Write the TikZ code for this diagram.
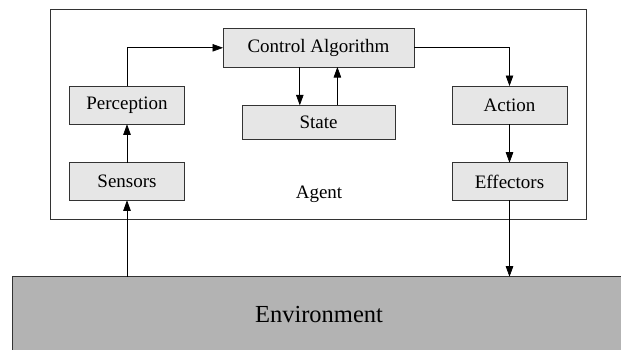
\documentclass[tikz,border=0pt]{standalone}
\usepackage{fontspec}
\setmainfont{Liberation Serif}
\usetikzlibrary{arrows.meta}
\definecolor{boxfill}{HTML}{E6E6E6}
\definecolor{envfill}{HTML}{B3B3B3}
\definecolor{edge}{HTML}{333333}
\begin{document}
\begin{tikzpicture}[x=1pt,y=-1pt,
  blk/.style={draw=edge,line width=0.9pt,fill=boxfill},
  lbl/.style={font=\fontsize{19}{21}\selectfont,inner sep=0pt},
  conn/.style={draw=black,line width=0.7pt,-{Triangle[length=10.5pt,width=7.5pt]}}]
\useasboundingbox (0,0) rectangle (621,349);
\fill[white] (0,0) rectangle (621,349);
% agent frame
\draw[draw=edge,line width=0.9pt] (50.7,9.3) rectangle (586,219.3);
\node[lbl] (agent) at (319,194) {Agent};
% environment
\filldraw[draw=edge,line width=0.9pt,fill=envfill] (12.7,276.7) rectangle (630,360);
\node[font=\fontsize{24.5}{26}\selectfont] (env) at (319,315) {Environment};
\coordinate (envL) at (127,276.7);
\coordinate (envR) at (509.5,276.7);
% blocks
\path[blk] (223,28.7) rectangle (414,67);
\node[lbl] (ca) at (318.5,47.8) {Control Algorithm};
\path[blk] (69.7,86) rectangle (184.6,124.3);
\node[lbl] (perc) at (127,105.2) {Perception};
\path[blk] (69.7,162.7) rectangle (184.6,200.3);
\node[lbl] (sens) at (127,181.5) {Sensors};
\path[blk] (242,105.3) rectangle (395,139.3);
\node[lbl] (state) at (318.5,122.3) {State};
\path[blk] (452,86) rectangle (567,124.3);
\node[lbl] (act) at (509.5,105.2) {Action};
\path[blk] (452,162.7) rectangle (567,200.3);
\node[lbl] (eff) at (509.5,181.5) {Effectors};
% anchor coordinates on block edges
\coordinate (caL) at (223,47.8);
\coordinate (caR) at (414,47.8);
\coordinate (caB1) at (299.8,67);
\coordinate (caB2) at (337.4,67);
\coordinate (stT1) at (299.8,105.3);
\coordinate (stT2) at (337.4,105.3);
\coordinate (percT) at (127,86);
\coordinate (percB) at (127,124.3);
\coordinate (sensT) at (127,162.7);
\coordinate (sensB) at (127,200.3);
\coordinate (actT) at (509.5,86);
\coordinate (actB) at (509.5,124.3);
\coordinate (effT) at (509.5,162.7);
\coordinate (effB) at (509.5,200.3);
% connectors
\draw[conn] (envL) -- (sensB);
\draw[conn] (sensT) -- (percB);
\draw[conn] (percT) |- (caL);
\draw[conn] (caR) -| (actT);
\draw[conn] (caB1) -- (stT1);
\draw[conn] (stT2) -- (caB2);
\draw[conn] (actB) -- (effT);
\draw[conn] (effB) -- (envR);
\end{tikzpicture}
\end{document}
